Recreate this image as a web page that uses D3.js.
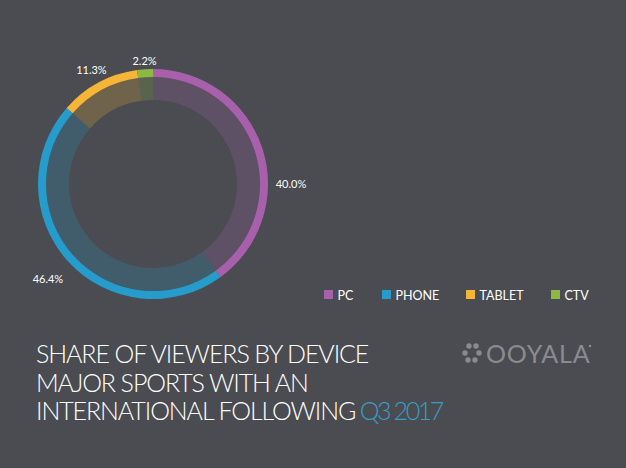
<!DOCTYPE html>
<html><head><meta charset="utf-8">
<script src="https://cdn.jsdelivr.net/npm/d3@7"></script>
<style>
html,body{margin:0;padding:0;background:#4a4c51;}
svg{display:block;}
</style></head>
<body>
<svg id="c" width="626" height="468"></svg>
<script>
const categories = ["PC", "PHONE", "TABLET", "CTV"];
const values = [40.0, 46.4, 11.3, 2.2];
const labels = ["40.0%", "46.4%", "11.3%", "2.2%"];
const colors = ["#a960ac", "#259ccb", "#f5b537", "#8cb943"];
const titleLines = ["SHARE OF VIEWERS BY DEVICE", "MAJOR SPORTS WITH AN", "INTERNATIONAL FOLLOWING"];
const titleAccent = "Q3 2017";

// layout (not data)
const labelRadius = [138, 142, 130, 123];
const labelAngleOverride = [Math.PI/2, null, null, null];

const svg = d3.select("#c");
svg.append("rect").attr("width",626).attr("height",468).attr("fill","#4a4c51");

const cx = 153, cy = 184, rOuter = 115, rRing = 107, rInner = 84;
const data = categories.map((c,i)=>({cat:c, value:values[i], label:labels[i], color:colors[i], i}));
const pie = d3.pie().value(d=>d.value).sort(null);
const arcs = pie(data);
const g = svg.append("g").attr("transform",`translate(${cx},${cy})`);

const arcInner = d3.arc().innerRadius(rInner).outerRadius(rRing);
const arcOuter = d3.arc().innerRadius(rRing).outerRadius(rOuter);

g.selectAll("path.in").data(arcs).join("path").attr("class","in")
  .attr("d",arcInner).attr("fill",d=>d.data.color).attr("fill-opacity",0.22);
g.selectAll("path.out").data(arcs).join("path").attr("class","out")
  .attr("d",arcOuter).attr("fill",d=>d.data.color);

// labels
g.selectAll("text.lbl").data(arcs).join("text").attr("class","lbl")
  .each(function(d){
    const i = d.data.i;
    const a = labelAngleOverride[i] != null ? labelAngleOverride[i] : (d.startAngle+d.endAngle)/2;
    const r = labelRadius[i];
    d3.select(this).attr("x", Math.sin(a)*r).attr("y", -Math.cos(a)*r);
  })
  .attr("dy","0.36em").attr("text-anchor","middle")
  .attr("fill","#ffffff").attr("font-family","Lato, 'DejaVu Sans', sans-serif")
  .attr("font-size",11).text(d=>d.data.label);

// legend
const legX = [324, 382, 466, 551];
const leg = svg.append("g");
data.forEach((d,i)=>{
  leg.append("rect").attr("x",legX[i]).attr("y",290).attr("width",9).attr("height",9).attr("fill",d.color);
  leg.append("text").attr("x",legX[i]+13.5).attr("y",299.5).attr("fill","#ffffff")
    .attr("font-family","Lato, 'DejaVu Sans', sans-serif").attr("font-size",12.5).text(d.cat);
});

// title
const ty = [363, 392, 420];
titleLines.forEach((t,i)=>{
  const tx = svg.append("text").attr("x",36).attr("y",ty[i]).attr("fill","#ffffff")
    .attr("font-family","Lato, 'Liberation Sans', sans-serif").attr("font-weight",300)
    .attr("font-size",25).attr("letter-spacing",-1.1).text(t);
  if(i===2){
    tx.append("tspan").attr("fill","#3a9dc6").attr("letter-spacing",-2.4).text(" "+titleAccent);
  }
});

// logo
const logo = svg.append("g").attr("fill","#8a8b8f");
[[469,346],[476,346],[465,353],[479,353],[468,360],[475,360]].forEach(p=>{
  logo.append("circle").attr("cx",p[0]).attr("cy",p[1]).attr("r",2.7);
});
logo.append("text").attr("x",486).attr("y",363).attr("font-family","Lato, 'Liberation Sans', sans-serif")
  .attr("font-weight",400).attr("font-size",25).attr("letter-spacing",0.8).text("OOYALA");
logo.append("circle").attr("cx",590).attr("cy",346).attr("r",1.3);
</script>
</body></html>
